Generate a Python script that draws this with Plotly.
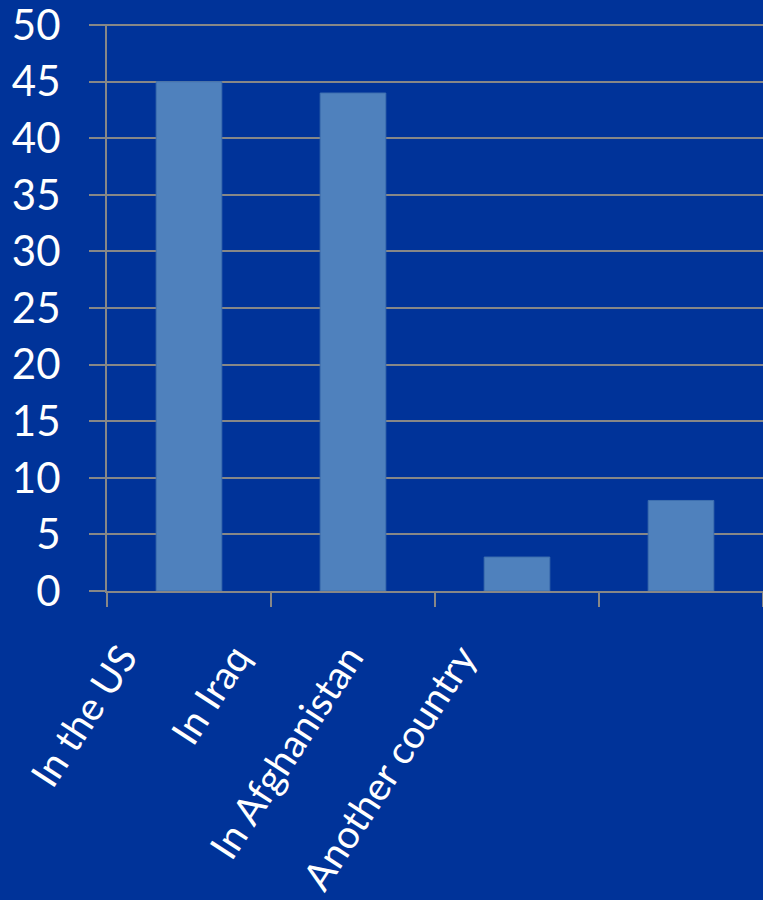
import plotly.graph_objects as go

categories = ["In the US", "In Iraq", "In Afghanistan", "Another country"]
values = [45, 44, 3, 8]
y_ticks = list(range(0, 51, 5))

BG = "#003399"
BAR = "#4F81BD"
GRID = "#878787"
W, H = 763, 900

fig = go.Figure()
fig.add_trace(go.Bar(
    x=categories, y=values,
    marker=dict(color=BAR, line=dict(color="#3F70B0", width=1)),
    width=0.4, showlegend=False, hoverinfo="x+y",
))
# carrier trace for the slanted category label axis (own subplot)
fig.add_trace(go.Scatter(
    x=categories, y=[0] * len(categories), xaxis="x2", yaxis="y2",
    mode="markers", marker=dict(opacity=0), showlegend=False, hoverinfo="skip",
))

plot_left = 107
label_left, label_step = 66, 113
y_max = 50.1

fig.update_layout(
    width=W, height=H,
    margin=dict(l=0, r=0, t=24, b=309, autoexpand=False),
    paper_bgcolor=BG, plot_bgcolor="rgba(0,0,0,0)",
    font=dict(family="Lato, Open Sans, sans-serif", color="white"),
    xaxis=dict(
        domain=[plot_left / W, 1], anchor="y", type="category", automargin=False,
        categoryorder="array", categoryarray=categories,
        tickson="boundaries", ticks="outside", ticklen=14, tickwidth=2, tickcolor=GRID,
        showline=True, linecolor=GRID, linewidth=2,
        showticklabels=False, showgrid=False, zeroline=False, fixedrange=True,
    ),
    yaxis=dict(
        domain=[0, 1], anchor="x", automargin=False,
        range=[0, y_max], tickvals=y_ticks,
        showgrid=True, gridcolor=GRID, gridwidth=2,
        ticks="outside", ticklen=16, tickwidth=2, tickcolor=GRID,
        showline=True, linecolor=GRID, linewidth=2, zeroline=False,
        tickfont=dict(size=42, color="white"), ticklabelstandoff=20,
        ticklabeloverflow="allow", fixedrange=True,
    ),
    xaxis2=dict(
        domain=[label_left / W, (label_left + label_step * len(categories)) / W],
        anchor="y2", type="category", categoryorder="array", categoryarray=categories,
        range=[-0.5, len(categories) - 0.5], automargin=False,
        tickangle=-57, tickfont=dict(size=39, color="white"),
        ticks="", showline=False, showgrid=False, zeroline=False,
        ticklabelstandoff=35, ticklabeloverflow="allow", fixedrange=True,
    ),
    yaxis2=dict(
        domain=[0, 1], anchor="x2", range=[0, y_max], automargin=False,
        visible=False, showgrid=False, zeroline=False, fixedrange=True,
    ),
)

fig.write_html("out.html")
